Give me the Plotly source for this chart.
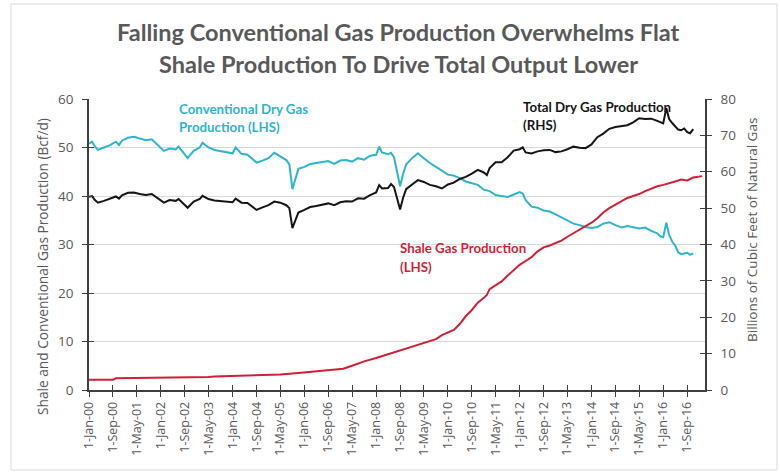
import plotly.graph_objects as go

# ---------------- data ----------------
months = [
    "2000-01", "2000-02", "2000-03", "2000-04", "2000-06", "2000-08", "2000-10", "2000-11", "2000-12",
    "2001-02", "2001-04", "2001-06", "2001-08", "2001-10", "2001-12",
    "2002-02", "2002-04", "2002-06", "2002-07", "2002-09", "2002-10", "2002-12",
    "2003-02", "2003-03", "2003-05", "2003-07", "2003-09", "2003-11",
    "2004-01", "2004-02", "2004-04", "2004-06", "2004-08", "2004-09", "2004-11",
    "2005-01", "2005-03", "2005-05", "2005-07", "2005-08", "2005-09", "2005-10", "2005-11",
    "2006-01", "2006-03", "2006-05", "2006-07", "2006-09", "2006-11",
    "2007-01", "2007-03", "2007-05", "2007-07", "2007-09", "2007-11",
    "2008-01", "2008-02", "2008-03", "2008-05", "2008-06", "2008-07", "2008-09", "2008-10", "2008-11",
    "2009-01", "2009-03", "2009-05", "2009-07", "2009-09", "2009-11",
    "2010-01", "2010-03", "2010-05", "2010-07", "2010-09", "2010-11",
    "2011-01", "2011-02", "2011-03", "2011-05", "2011-07", "2011-09", "2011-11",
    "2012-01", "2012-02", "2012-03", "2012-05", "2012-07", "2012-09", "2012-11",
    "2013-01", "2013-03", "2013-05", "2013-07", "2013-09", "2013-11",
    "2014-01", "2014-03", "2014-05", "2014-07", "2014-09", "2014-11",
    "2015-01", "2015-03", "2015-05", "2015-07", "2015-09", "2015-11", "2015-12",
    "2016-01", "2016-02", "2016-03", "2016-04", "2016-05", "2016-06", "2016-07", "2016-08",
    "2016-09", "2016-10", "2016-11",
]

conventional = [
    50.8, 51.2, 50.2, 49.5, 50.0, 50.5, 51.2, 50.5, 51.4,
    52.0, 52.2, 51.8, 51.5, 51.7, 50.5,
    49.3, 49.8, 49.6, 50.2, 48.6, 47.8, 49.3,
    50.0, 51.0, 50.0, 49.5, 49.3, 49.0,
    48.8, 50.0, 48.7, 48.5, 47.5, 46.9, 47.3,
    47.8, 48.9, 48.2, 47.4, 46.5, 41.4, 43.5, 45.6,
    46.0, 46.6, 46.8, 47.0, 47.2, 46.6,
    47.3, 47.4, 47.1, 47.8, 47.5, 48.3,
    48.5, 50.2, 49.0, 48.6, 48.9, 48.0, 42.0, 44.5, 46.5,
    47.8, 48.8, 47.8, 46.8, 46.0, 45.2,
    44.4, 44.2, 43.7, 43.0, 42.6, 42.3,
    41.3, 41.2, 41.0, 40.2, 40.0, 39.8, 40.3,
    40.8, 40.5, 39.2, 37.8, 37.6, 37.0, 36.8,
    36.2, 35.6, 35.0, 34.3, 34.0, 33.6,
    33.4, 33.6, 34.3, 34.6, 34.0, 33.5,
    33.8, 33.6, 33.3, 33.5, 32.8, 32.3, 31.7,
    31.5, 34.5, 32.0, 30.6, 29.8, 28.4, 28.0, 28.2,
    28.3, 27.9, 28.1,
]

total = [
    53.1, 53.3, 52.2, 51.5, 52.0, 52.6, 53.2, 52.6, 53.5,
    54.2, 54.3, 53.9, 53.6, 53.9, 52.7,
    51.5, 52.2, 52.0, 52.5, 50.9, 50.1, 51.8,
    52.5, 53.4, 52.5, 52.1, 52.0, 51.7,
    51.6, 52.6, 51.5, 51.4, 50.3, 49.5, 50.2,
    50.8, 51.8, 51.5, 50.8, 50.0, 44.5, 46.8, 48.8,
    49.5, 50.3, 50.6, 51.0, 51.3, 50.8,
    51.6, 51.9, 51.8, 52.7, 52.6, 53.6,
    54.3, 56.3, 55.4, 55.5, 56.6, 55.8, 49.6, 52.8, 55.2,
    56.5, 57.7, 57.2, 56.4, 56.0, 55.4,
    56.5, 57.0, 58.0, 58.6, 59.5, 60.5,
    59.8, 59.1, 61.0, 62.6, 62.6, 64.0, 65.8,
    66.2, 66.7, 65.3, 65.0, 65.6, 65.9, 66.0,
    65.4, 65.6, 66.2, 66.9, 66.6, 66.5,
    67.5, 69.5, 70.5, 71.8, 72.3, 72.6,
    72.8, 73.6, 74.7, 74.5, 74.6, 74.0, 73.6,
    73.3, 77.5, 74.5, 73.4, 72.6, 71.6, 71.4, 71.9,
    70.9, 70.6, 71.7,
]

shale_months = [
    "2000-01", "2000-09", "2000-10", "2002-01", "2002-03", "2003-05", "2003-07", "2004-09",
    "2005-05", "2005-11", "2006-03", "2006-09", "2007-02", "2007-05", "2007-09", "2008-01",
    "2008-05", "2008-09", "2009-01", "2009-04", "2009-07", "2009-09", "2009-11", "2010-01",
    "2010-03", "2010-05", "2010-07", "2010-09", "2010-11", "2011-01", "2011-02", "2011-03",
    "2011-05", "2011-07", "2011-09", "2011-11", "2012-01", "2012-03", "2012-05", "2012-07",
    "2012-09", "2012-11", "2013-01", "2013-03", "2013-05", "2013-07", "2013-09", "2013-11",
    "2014-01", "2014-03", "2014-05", "2014-07", "2014-09", "2014-11", "2015-01", "2015-03",
    "2015-05", "2015-07", "2015-09", "2015-11", "2016-01", "2016-03", "2016-05", "2016-07",
    "2016-09", "2016-11", "2017-01", "2017-02",
]

shale = [
    2.1, 2.1, 2.4, 2.5, 2.6, 2.7, 2.8, 3.0,
    3.2, 3.5, 3.7, 4.0, 4.4, 5.0, 5.9, 6.6,
    7.4, 8.2, 9.0, 9.5, 10.1, 10.5, 11.3, 11.8,
    12.4, 13.6, 15.2, 16.5, 18.0, 19.0, 19.6, 20.8,
    21.6, 22.4, 23.6, 24.8, 25.8, 26.6, 27.4, 28.6,
    29.4, 29.8, 30.3, 30.8, 31.6, 32.3, 33.0, 33.8,
    34.5, 35.4, 36.6, 37.5, 38.2, 38.8, 39.6, 40.0,
    40.4, 41.0, 41.5, 42.0, 42.3, 42.6, 43.0, 43.4,
    43.2, 43.8, 44.0, 44.1,
]

tick_dates = [
    "2000-01-01", "2000-09-01", "2001-05-01", "2002-01-01", "2002-09-01", "2003-05-01",
    "2004-01-01", "2004-09-01", "2005-05-01", "2006-01-01", "2006-09-01", "2007-05-01",
    "2008-01-01", "2008-09-01", "2009-05-01", "2010-01-01", "2010-09-01", "2011-05-01",
    "2012-01-01", "2012-09-01", "2013-05-01", "2014-01-01", "2014-09-01", "2015-05-01",
    "2016-01-01", "2016-09-01",
]
tick_labels = [
    "1-Jan-00", "1-Sep-00", "1-May-01", "1-Jan-02", "1-Sep-02", "1-May-03",
    "1-Jan-04", "1-Sep-04", "1-May-05", "1-Jan-06", "1-Sep-06", "1-May-07",
    "1-Jan-08", "1-Sep-08", "1-May-09", "1-Jan-10", "1-Sep-10", "1-May-11",
    "1-Jan-12", "1-Sep-12", "1-May-13", "1-Jan-14", "1-Sep-14", "1-May-15",
    "1-Jan-16", "1-Sep-16",
]

left_ticks = [0, 10, 20, 30, 40, 50, 60]
right_ticks = [0, 10, 20, 30, 40, 50, 60, 70, 80]

assert len(months) == len(conventional) == len(total)
assert len(shale_months) == len(shale)

# ---------------- style ----------------
CYAN = "#2DB4CF"
BLACK = "#151515"
RED = "#D21F36"
GRAY = "#595959"
AXIS = "#404040"
GRID = "#D9D9D9"
TICKFONT = dict(family="Open Sans, sans-serif", size=13.5, color=GRAY)
LABELFONT = "Lato, sans-serif"

W, H = 780, 472
L, R, T, B = 89, 75, 99, 82
PW, PH = W - L - R, H - T - B


def px(xp):
    return (xp - L) / PW


def py(yp):
    return (H - B - yp) / PH


fig = go.Figure()

fig.add_trace(go.Scatter(x=months, y=conventional, mode="lines",
                         line=dict(color=CYAN, width=2), name="Conventional",
                         xaxis="x", yaxis="y"))
fig.add_trace(go.Scatter(x=shale_months, y=shale, mode="lines",
                         line=dict(color=RED, width=2), name="Shale",
                         xaxis="x", yaxis="y"))
fig.add_trace(go.Scatter(x=months, y=total, mode="lines",
                         line=dict(color=BLACK, width=2), name="Total",
                         xaxis="x", yaxis="y2"))
# empty traces so the inner-tick overlay axes are drawn
fig.add_trace(go.Scatter(x=[], y=[], xaxis="x2", yaxis="y3", showlegend=False, hoverinfo="skip"))
fig.add_trace(go.Scatter(x=[], y=[], xaxis="x2", yaxis="y4", showlegend=False, hoverinfo="skip"))

xrange_ = ["2000-01-01", "2017-03-01"]

fig.update_layout(
    width=W, height=H,
    margin=dict(l=L, r=R, t=T, b=B, pad=0),
    paper_bgcolor="white", plot_bgcolor="white",
    showlegend=False,
    xaxis=dict(
        type="date", range=xrange_, tickmode="array", tickvals=tick_dates, ticktext=tick_labels,
        tickangle=-90, tickfont=dict(family="Open Sans, sans-serif", size=12.5, color=GRAY),
        ticks="outside", ticklen=5, tickwidth=1, tickcolor=AXIS,
        showline=True, linecolor=AXIS, linewidth=1.5, showgrid=False, zeroline=False,
        anchor="y",
    ),
    xaxis2=dict(
        type="date", range=xrange_, overlaying="x", anchor="y", tickmode="array", tickvals=tick_dates,
        showticklabels=False, ticks="inside", ticklen=5, tickwidth=1, tickcolor=AXIS,
        showline=False, showgrid=False, zeroline=False,
    ),
    yaxis=dict(
        range=[0, 60], tickmode="array", tickvals=left_ticks, tickfont=TICKFONT,
        ticks="outside", ticklen=5, tickwidth=1, tickcolor=AXIS, ticklabelstandoff=6,
        showline=True, linecolor=AXIS, linewidth=1.5,
        showgrid=True, gridcolor=GRID, gridwidth=1, zeroline=False, anchor="x",
    ),
    yaxis2=dict(
        range=[0, 80], tickmode="array", tickvals=right_ticks, tickfont=TICKFONT,
        overlaying="y", side="right", anchor="x",
        ticks="outside", ticklen=5, tickwidth=1, tickcolor=AXIS, ticklabelstandoff=6,
        showline=True, linecolor=AXIS, linewidth=1.5, showgrid=False, zeroline=False,
    ),
    yaxis3=dict(
        range=[0, 60], tickmode="array", tickvals=left_ticks, overlaying="y", side="left", anchor="x2",
        ticks="inside", ticklen=5, tickwidth=1, tickcolor=AXIS, showticklabels=False,
        showline=False, showgrid=False, zeroline=False,
    ),
    yaxis4=dict(
        range=[0, 80], tickmode="array", tickvals=right_ticks, overlaying="y", side="right", anchor="x2",
        ticks="inside", ticklen=5, tickwidth=1, tickcolor=AXIS, showticklabels=False,
        showline=False, showgrid=False, zeroline=False,
    ),
)

ann = []


def label(text, xp, yp, color, size=13.3, xanchor="left", bold=True, family=LABELFONT, angle=0):
    ann.append(dict(
        text=("<b>%s</b>" % text) if bold else text, x=px(xp), y=py(yp), xref="paper", yref="paper",
        xanchor=xanchor, yanchor="middle", showarrow=False, textangle=angle,
        font=dict(family=family, size=size, color=color),
    ))


# title
label("Falling Conventional Gas Production Overwhelms Flat", 398, 32, GRAY, size=23.5, xanchor="center")
label("Shale Production To Drive Total Output Lower", 398, 64, GRAY, size=23.5, xanchor="center")

# series labels
label("Conventional Dry Gas", 177, 109, CYAN)
label("Production (LHS)", 177, 127, CYAN)
label("Total Dry Gas Production", 521, 107, BLACK)
label("(RHS)", 521, 125, BLACK)
label("Shale Gas Production", 398, 248, RED)
label("(LHS)", 398, 267, RED)

# axis titles
label("Shale and Conventional Gas Production (Bcf/d)", 42, 267, GRAY, size=13.7, xanchor="center",
      bold=False, family="Open Sans, sans-serif", angle=-90)
label("Billions of Cubic Feet of Natural Gas", 752, 230, GRAY, size=13.5, xanchor="center",
      bold=False, family="Open Sans, sans-serif", angle=-90)

fig.update_layout(annotations=ann)

# faint outer frame of the chart
fig.add_shape(type="rect", xref="paper", yref="paper",
              x0=px(11), x1=px(777), y0=py(470), y1=py(4),
              line=dict(color="#D9D9D9", width=1), fillcolor="rgba(0,0,0,0)", layer="below")

fig.write_html("out.html", config={"displayModeBar": False},
               post_script="document.body.style.margin='0px';")
